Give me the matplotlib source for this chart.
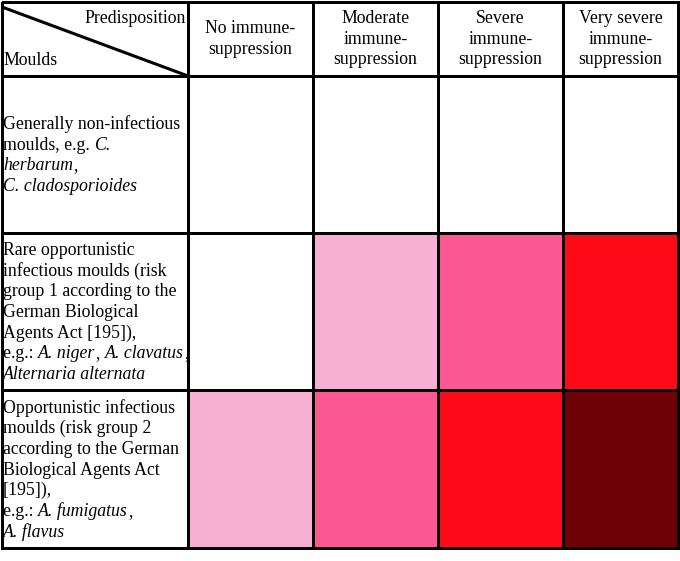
import matplotlib
matplotlib.use("Agg")
import matplotlib.pyplot as plt
from matplotlib.colors import ListedColormap
import numpy as np

# predisposition columns and mould groups
col_labels = ["No immune-\nsuppression",
              "Moderate\nimmune-\nsuppression",
              "Severe\nimmune-\nsuppression",
              "Very severe\nimmune-\nsuppression"]

# row labels: lines of (text, italic) segments
row_labels = [
    [[("Generally non-infectious", False)],
     [("moulds, e.g. ", False), ("C.", True)],
     [("herbarum", True), (",", False)],
     [("C. cladosporioides", True)]],
    [[("Rare opportunistic", False)],
     [("infectious moulds (risk", False)],
     [("group 1 according to the", False)],
     [("German Biological", False)],
     [("Agents Act [195]),", False)],
     [("e.g.: ", False), ("A. niger", True), (", ", False), ("A. clavatus", True), (",", False)],
     [("Alternaria alternata", True)]],
    [[("Opportunistic infectious", False)],
     [("moulds (risk group 2", False)],
     [("according to the German", False)],
     [("Biological Agents Act", False)],
     [("[195]),", False)],
     [("e.g.: ", False), ("A. fumigatus", True), (",", False)],
     [("A. flavus", True)]],
]

# risk level per cell (0 = none ... 4 = highest)
risk = [[0, 0, 0, 0],
        [0, 1, 2, 3],
        [1, 2, 3, 4]]

risk_colors = ["#ffffff", "#f8afd4", "#fb5892", "#fc0a18", "#700008"]

# layout in pixels
x_edges = [2, 188, 313, 438, 563, 678]
y_edges = [2, 76, 233, 390, 548]
line_h = 20.7
font = "Liberation Serif"
fs = 12.8

fig = plt.figure(figsize=(6.8, 5.61), dpi=100)
ax = fig.add_axes([0, 0, 1, 1])
ax.set_xlim(0, 680)
ax.set_ylim(561, 0)
ax.axis("off")

# full grid with header row / label column as level 0 (white)
grid = np.zeros((len(y_edges) - 1, len(x_edges) - 1))
grid[1:, 1:] = np.array(risk)
cmap = ListedColormap(risk_colors)
ax.pcolormesh(x_edges, y_edges, grid, cmap=cmap, vmin=-0.5, vmax=4.5,
              edgecolor="black", linewidth=2)

# diagonal in the corner cell
ax.plot([x_edges[0], x_edges[1]], [y_edges[0] + 5, y_edges[1]], color="black", lw=2.2,
        solid_capstyle="butt")
ax.text(x_edges[1] - 2, 18, "Predisposition", ha="right", va="center",
        family=font, fontsize=fs)
ax.text(x_edges[0] + 1, 60, "Moulds", ha="left", va="center",
        family=font, fontsize=fs)

# column headers
for j, lab in enumerate(col_labels):
    xc = (x_edges[j + 1] + x_edges[j + 2]) / 2
    lines = lab.split("\n")
    yc = (y_edges[0] + y_edges[1]) / 2
    y0 = yc - (len(lines) - 1) * line_h / 2
    for k, ln in enumerate(lines):
        ax.text(xc, y0 + k * line_h, ln, ha="center", va="center",
                family=font, fontsize=fs)

# row labels with mixed italic segments
fig.canvas.draw()
renderer = fig.canvas.get_renderer()
inv = ax.transData.inverted()
for i, lines in enumerate(row_labels):
    yc = (y_edges[i + 1] + y_edges[i + 2]) / 2 + 1
    y0 = yc - (len(lines) - 1) * line_h / 2
    for k, segs in enumerate(lines):
        x = x_edges[0] + 1
        for txt, it in segs:
            t = ax.text(x, y0 + k * line_h, txt, ha="left", va="center",
                        family=font, fontsize=fs,
                        style="italic" if it else "normal")
            bb = t.get_window_extent(renderer)
            x = inv.transform((bb.x1, bb.y0))[0] + 0.2

fig.savefig("out.png", dpi=100)
